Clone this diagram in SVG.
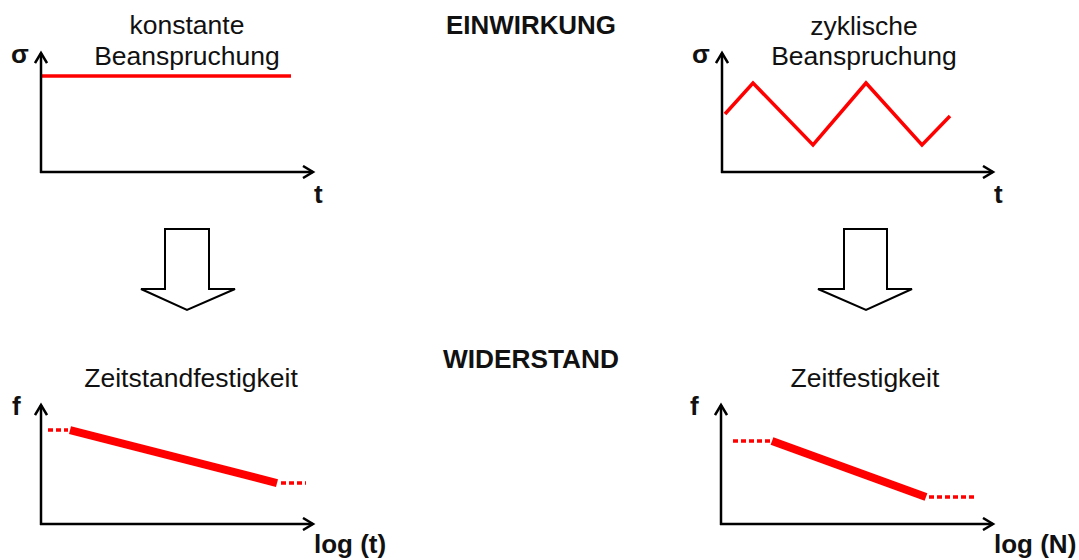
<svg xmlns="http://www.w3.org/2000/svg" width="1079" height="560" viewBox="0 0 1079 560">
  <defs>
    <marker id="axisHead" markerWidth="14" markerHeight="14" refX="11" refY="7" orient="auto" markerUnits="userSpaceOnUse">
      <path d="M1,1 L11,7 L1,13" fill="none" stroke="#000" stroke-width="2.5"/>
    </marker>
    <style>
      .axis { stroke: #000; stroke-width: 2.5; fill: none; marker-end: url(#axisHead); }
      .load { stroke: #ff0000; stroke-width: 3.5; fill: none; stroke-linejoin: miter; }
      .curve { stroke: #ff0000; stroke-width: 8; fill: none; }
      .dots { stroke: #ff0000; stroke-width: 3.5; fill: none; stroke-dasharray: 5 3; }
      .label { font-family: "Liberation Sans", Arial, sans-serif; font-size: 26.5px; fill: #111; }
      .head { font-family: "Liberation Sans", Arial, sans-serif; font-size: 26px; font-weight: bold; fill: #111; }
      .sym { font-family: "Liberation Sans", Arial, sans-serif; font-size: 26px; font-weight: bold; fill: #111; }
      .block { fill: #fff; stroke: #000; stroke-width: 2; }
    </style>
  </defs>

  <rect width="1079" height="560" fill="#fff"/>

  <!-- section headings -->
  <text class="head" x="531" y="34" text-anchor="middle" textLength="170" lengthAdjust="spacingAndGlyphs">EINWIRKUNG</text>
  <text class="head" x="531" y="368" text-anchor="middle" textLength="176" lengthAdjust="spacingAndGlyphs">WIDERSTAND</text>

  <!-- constant load chart -->
  <g id="konstante-beanspruchung">
    <text class="label" x="187" y="34" text-anchor="middle">konstante</text>
    <text class="label" x="187" y="65" text-anchor="middle">Beanspruchung</text>
    <text class="sym" x="11" y="63">σ</text>
    <text class="sym" x="314" y="203">t</text>
    <line class="load" x1="41" y1="76" x2="291" y2="76"/>
    <line class="axis" x1="41" y1="173" x2="41" y2="53"/>
    <line class="axis" x1="40" y1="172" x2="313" y2="172"/>
  </g>

  <!-- cyclic load chart -->
  <g id="zyklische-beanspruchung">
    <text class="label" x="864" y="35" text-anchor="middle">zyklische</text>
    <text class="label" x="864" y="65" text-anchor="middle">Beanspruchung</text>
    <text class="sym" x="692" y="63">σ</text>
    <text class="sym" x="994" y="203">t</text>
    <polyline class="load" points="725,114 753,83 813,145 866,83 922,145 950,116"/>
    <line class="axis" x1="722" y1="173" x2="722" y2="53"/>
    <line class="axis" x1="721" y1="172" x2="993" y2="172"/>
  </g>

  <!-- block arrows -->
  <g id="pfeil-links">
    <path class="block" d="M165,229 H209 V289 H235 L187,310 L141,289 H165 Z"/>
  </g>
  <g id="pfeil-rechts">
    <path class="block" d="M844,229 H887 V289 H912 L866,310 L818,289 H844 Z"/>
  </g>

  <!-- creep strength chart -->
  <g id="zeitstandfestigkeit">
    <text class="label" x="191" y="387" text-anchor="middle">Zeitstandfestigkeit</text>
    <text class="sym" x="12" y="415">f</text>
    <text class="sym" x="314" y="553">log (t)</text>
    <line class="dots" x1="48" y1="430" x2="68" y2="430"/>
    <line class="curve" x1="70" y1="430" x2="277" y2="483"/>
    <line class="dots" x1="281" y1="483" x2="306" y2="483"/>
    <line class="axis" x1="41" y1="525" x2="41" y2="405"/>
    <line class="axis" x1="40" y1="524" x2="313" y2="524"/>
  </g>

  <!-- fatigue strength chart -->
  <g id="zeitfestigkeit">
    <text class="label" x="865" y="387" text-anchor="middle">Zeitfestigkeit</text>
    <text class="sym" x="690" y="415">f</text>
    <text class="sym" x="994" y="553">log (N)</text>
    <line class="dots" x1="733" y1="441" x2="771" y2="441"/>
    <line class="curve" x1="772" y1="441" x2="926" y2="497"/>
    <line class="dots" x1="929" y1="497" x2="975" y2="497"/>
    <line class="axis" x1="721" y1="525" x2="721" y2="405"/>
    <line class="axis" x1="720" y1="524" x2="993" y2="524"/>
  </g>
</svg>
